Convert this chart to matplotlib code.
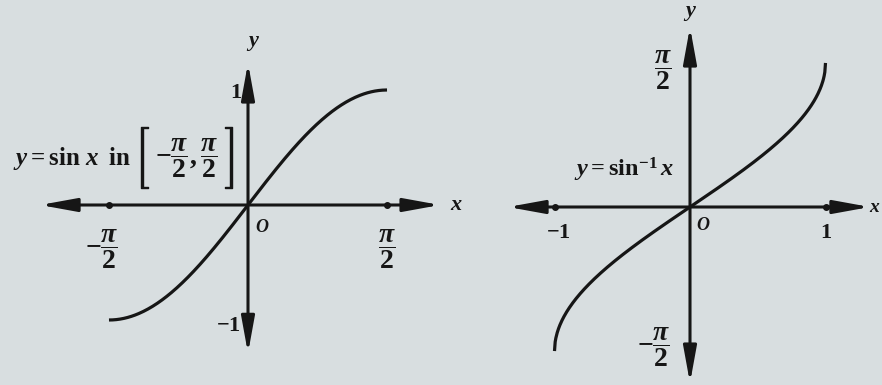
import numpy as np
import matplotlib.pyplot as plt
import matplotlib.patheffects as pe
from matplotlib.patches import FancyArrowPatch

plt.rcParams['mathtext.fontset'] = 'custom'
plt.rcParams['mathtext.rm'] = 'Liberation Serif:bold'
plt.rcParams['mathtext.it'] = 'Liberation Serif:italic:bold'
plt.rcParams['mathtext.bf'] = 'Liberation Serif:bold'
plt.rcParams['font.family'] = 'Liberation Serif'
plt.rcParams['font.weight'] = 'bold'

# restricted sine on [-pi/2, pi/2] and its inverse on [-1, 1]
sin_domain = [-np.pi / 2, np.pi / 2]
asin_domain = [-1.0, 1.0]
sin_ticks_x = [-np.pi / 2, np.pi / 2]
sin_ticks_y = [-1, 1]
asin_ticks_x = [-1, 1]
asin_ticks_y = [-np.pi / 2, np.pi / 2]

ink = '#161616'
paper = '#d8dee0'

fig = plt.figure(figsize=(8.82, 3.85), dpi=100, facecolor=paper)
W, H = 882, 385

# left panel: pixels 0..470, origin at (248, 205)
axl = fig.add_axes([0, 0, 470 / W, 1])
axl.set_xlim(-248 / 88.5, (470 - 248) / 88.5)
axl.set_ylim((205 - 385) / 115, 205 / 115)
# right panel: pixels 470..882, origin at (690, 207)
axr = fig.add_axes([470 / W, 0, 412 / W, 1])
axr.set_xlim((470 - 690) / 135.5, (882 - 690) / 135.5)
axr.set_ylim((207 - 385) / 91.7, 207 / 91.7)

for ax in (axl, axr):
    ax.set_axis_off()
    ax.patch.set_alpha(0)


def axis_arrow(ax, p0, p1):
    arr = FancyArrowPatch(p0, p1, arrowstyle='<|-|>,head_length=1.1,head_width=0.2',
                          mutation_scale=20, color=ink, lw=2.2, shrinkA=0, shrinkB=0)
    ax.add_patch(arr)


fs = 16     # plain labels
ffs = 20    # labels holding pi/2 fractions

# left: y = sin x
axis_arrow(axl, (-2.35, 0), (2.17, 0))
axis_arrow(axl, (0, -1.29), (0, 1.235))
xs = np.linspace(sin_domain[0], sin_domain[1], 300)
axl.plot(xs, np.sin(xs), color=ink, lw=2.3, solid_capstyle='butt')
axl.plot(sin_ticks_x, [0, 0], 'o', color=ink, ms=4)
axl.plot([0, 0], sin_ticks_y, 'o', color=ink, ms=4)

axl.text(0.06, 1.41, '$y$', fontsize=fs, ha='center', va='center', color=ink)
axl.text(2.36, 0, '$x$', fontsize=fs, ha='center', va='center', color=ink)
axl.text(-0.08, 0.97, '1', fontsize=fs, ha='right', va='center', color=ink)
axl.text(-0.08, -1.05, '$-1$', fontsize=fs, ha='right', va='center', color=ink)
axl.text(0.16, -0.2, '$O$', fontsize=13, ha='center', va='center', color=ink)
axl.text(-np.pi / 2 - 0.08, -0.38, r'$-\dfrac{\pi}{2}$', fontsize=ffs, ha='center', va='center', color=ink)
axl.text(np.pi / 2, -0.38, r'$\dfrac{\pi}{2}$', fontsize=ffs, ha='center', va='center', color=ink)

# curve caption: words, tall thin brackets, then the interval endpoints
axl.text(-1.32, 0.40, r'$y = \sin\,x\;\;\mathrm{in}$', fontsize=18, ha='right', va='center', color=ink)
for bx, br in [(-1.20, '['), (-0.19, ']')]:
    axl.text(bx, 0.41, br, family='STIXSizeThreeSym', fontsize=18, fontweight='normal',
             ha='center', va='center', color=ink,
             path_effects=[pe.withStroke(linewidth=1.0, foreground=ink)])
axl.text(-0.69, 0.41, r'$-\dfrac{\pi}{2},\dfrac{\pi}{2}$', fontsize=ffs, ha='center', va='center', color=ink)

# right: y = sin^-1 x
axis_arrow(axr, (-1.343, 0), (1.328, 0))
axis_arrow(axr, (0, -1.92), (0, 1.963))
xa = np.linspace(asin_domain[0], asin_domain[1], 400)
axr.plot(xa, np.arcsin(xa), color=ink, lw=2.3, solid_capstyle='butt')
axr.plot(asin_ticks_x, [0, 0], 'o', color=ink, ms=4)
axr.plot([0, 0], asin_ticks_y, 'o', color=ink, ms=4)

axr.text(0, 2.12, '$y$', fontsize=fs, ha='center', va='center', color=ink)
axr.text(1.365, 0, '$x$', fontsize=14, ha='center', va='center', color=ink)
axr.text(-0.2, 1.49, r'$\dfrac{\pi}{2}$', fontsize=ffs, ha='center', va='center', color=ink)
axr.text(-0.27, -1.53, r'$-\dfrac{\pi}{2}$', fontsize=ffs, ha='center', va='center', color=ink)
axr.text(-0.97, -0.28, '$-1$', fontsize=fs, ha='center', va='center', color=ink)
axr.text(1.0, -0.28, '1', fontsize=fs, ha='center', va='center', color=ink)
axr.text(0.1, -0.2, '$O$', fontsize=13, ha='center', va='center', color=ink)
axr.text(-0.49, 0.40, r'$y = \sin^{-1} x$', fontsize=17.5, ha='center', va='center', color=ink)

fig.savefig('out.png', dpi=100, facecolor=paper)
